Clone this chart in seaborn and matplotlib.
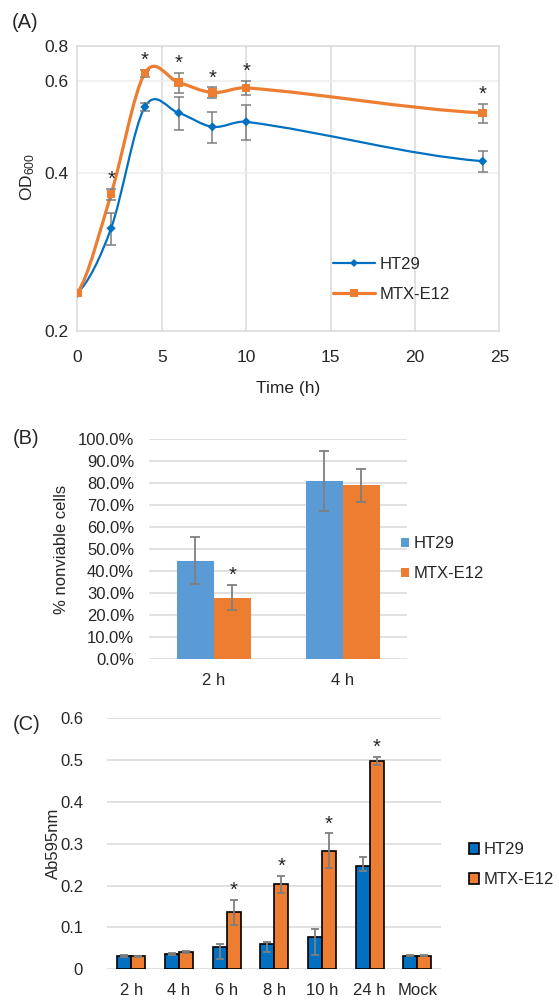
import numpy as np
import pandas as pd
import matplotlib
matplotlib.use("Agg")
import matplotlib.pyplot as plt
import seaborn as sns
from matplotlib.path import Path
from matplotlib.patches import PathPatch, Patch
from matplotlib.lines import Line2D
from matplotlib.ticker import NullLocator, NullFormatter, PercentFormatter

# ---------------- data ----------------
# (A) growth curve, OD600
time_h = [0, 2, 4, 6, 8, 10, 24]
od_ht29 = [0.236, 0.314, 0.536, 0.522, 0.491, 0.502, 0.422]
od_ht29_err = [0.0, 0.022, 0.009, 0.037, 0.033, 0.039, 0.019]
od_mtx = [0.236, 0.365, 0.622, 0.597, 0.571, 0.583, 0.522]
od_mtx_err = [0.0, 0.009, 0.010, 0.026, 0.013, 0.019, 0.022]
od_mtx_sig = [False, True, True, True, True, True, True]

# (B) % nonviable cells
b_times = ["2 h", "4 h"]
b_ht29 = [0.448, 0.809]
b_ht29_err = [0.107, 0.136]
b_mtx = [0.279, 0.789]
b_mtx_err = [0.057, 0.073]
b_mtx_sig = [True, False]

# (C) Ab595nm
c_times = ["2 h", "4 h", "6 h", "8 h", "10 h", "24 h", "Mock"]
c_ht29 = [0.032, 0.037, 0.054, 0.061, 0.077, 0.246, 0.032]
c_ht29_err_lo = [0.003, 0.003, 0.030, 0.020, 0.043, 0.011, 0.001]
c_ht29_err_hi = [0.003, 0.003, 0.006, 0.004, 0.019, 0.023, 0.001]
c_mtx = [0.031, 0.041, 0.136, 0.203, 0.283, 0.498, 0.032]
c_mtx_err = [0.001, 0.003, 0.030, 0.020, 0.042, 0.010, 0.001]
c_mtx_sig = [False, False, True, True, True, True, False]

lines = ["HT29", "MTX-E12"]

# ---------------- style ----------------
sns.set_style("white")
plt.rcParams["font.family"] = ["Liberation Sans", "DejaVu Sans"]
plt.rcParams["mathtext.fontset"] = "custom"
plt.rcParams["mathtext.rm"] = "Liberation Sans"
plt.rcParams["mathtext.it"] = "Liberation Sans:italic"
plt.rcParams["mathtext.bf"] = "Liberation Sans:bold"

BLUE_A = "#0070C0"
ORANGE = "#ED7D31"
BLUE_B = "#5B9BD5"
GRID = "#d9d9d9"
ERR = "#7f7f7f"
FS = 12
STAR_FS = 14.5

W, H = 559, 1000
fig = plt.figure(figsize=(W / 100, H / 100), dpi=100)


def ax_px(l, t, r, b):
    return fig.add_axes([l / W, 1 - b / H, (r - l) / W, (b - t) / H])


def smooth_path(x, y):
    x = np.asarray(x, float)
    ly = np.log(np.asarray(y, float))
    n = len(x)
    m = np.empty(n)
    for i in range(n):
        if i == 0:
            m[i] = 0.5 * (ly[1] - ly[0]) / (x[1] - x[0])
        elif i == n - 1:
            m[i] = 0.5 * (ly[-1] - ly[-2]) / (x[-1] - x[-2])
        else:
            m[i] = (ly[i + 1] - ly[i - 1]) / (x[i + 1] - x[i - 1])
    verts = [(x[0], np.exp(ly[0]))]
    codes = [Path.MOVETO]
    for i in range(n - 1):
        h = x[i + 1] - x[i]
        verts += [(x[i] + h / 3, np.exp(ly[i] + m[i] * h / 3)),
                  (x[i + 1] - h / 3, np.exp(ly[i + 1] - m[i + 1] * h / 3)),
                  (x[i + 1], np.exp(ly[i + 1]))]
        codes += [Path.CURVE4] * 3
    return Path(verts, codes)


# ================= Panel A =================
axA = ax_px(77.3, 45.7, 499.5, 330.7)
axA.set_yscale("log")
axA.set_xlim(0, 25)
axA.set_ylim(0.2, 0.702)
axA.set_xticks([0, 5, 10, 15, 20, 25])
axA.set_yticks([0.2, 0.4, 0.6, 0.702], labels=["0.2", "0.4", "0.6", "0.8"])
axA.yaxis.set_minor_locator(NullLocator())
axA.yaxis.set_minor_formatter(NullFormatter())
axA.grid(False)
for xv in [5, 10, 15, 20]:
    axA.axvline(xv, color=GRID, lw=1.1, zorder=0)
for yv in [0.4, 0.6]:
    axA.axhline(yv, color="#ededed", lw=1.1, zorder=0)
for s in axA.spines.values():
    s.set_color(GRID)
    s.set_linewidth(1.1)
axA.tick_params(axis="both", length=0, labelsize=12.5)
axA.tick_params(axis="y", pad=6)
axA.tick_params(axis="x", pad=14)

dfA = pd.DataFrame({
    "t": time_h * 2,
    "od": od_ht29 + od_mtx,
    "line": ["HT29"] * len(time_h) + ["MTX-E12"] * len(time_h),
})

for yv, col, lw in [(od_ht29, BLUE_A, 1.6), (od_mtx, ORANGE, 2.3)]:
    axA.add_patch(PathPatch(smooth_path(time_h, yv), facecolor="none",
                            edgecolor=col, lw=lw, zorder=2, capstyle="round"))

for yv, ev in [(od_ht29, od_ht29_err), (od_mtx, od_mtx_err)]:
    idx = [i for i, e in enumerate(ev) if e > 0]
    axA.errorbar([time_h[i] for i in idx], [yv[i] for i in idx],
                 yerr=[ev[i] for i in idx], fmt="none", ecolor=ERR,
                 elinewidth=1.1, capsize=3.3, capthick=1.1, zorder=3)

sns.scatterplot(data=dfA, x="t", y="od", hue="line", style="line",
                markers={"HT29": "D", "MTX-E12": "s"},
                palette={"HT29": BLUE_A, "MTX-E12": ORANGE},
                size="line", sizes={"HT29": 22, "MTX-E12": 38},
                linewidth=0, legend=False, ax=axA, zorder=4)

for t, v, e, sig in zip(time_h, od_mtx, od_mtx_err, od_mtx_sig):
    if sig:
        axA.annotate("*", xy=(t, v + e), xytext=(0, 0), textcoords="offset points",
                     ha="center", va="bottom", fontsize=STAR_FS)

axA.set_xlabel("Time (h)", fontsize=12.5, va="center")
axA.xaxis.set_label_coords(0.5, (330.7 - 388) / 285)
axA.set_ylabel("OD$_{600}$", fontsize=12.5, va="center")
axA.yaxis.set_label_coords((28 - 77.3) / 422.2, (330.7 - 177) / 285)

handlesA = [
    Line2D([], [], color=BLUE_A, lw=1.6, marker="D", markersize=4.2, markeredgewidth=0),
    Line2D([], [], color=ORANGE, lw=2.3, marker="s", markersize=6, markeredgewidth=0),
]
fig.legend(handles=handlesA, labels=lines, loc="center left",
           bbox_to_anchor=(333 / W, 1 - 279.5 / H), frameon=False, fontsize=FS,
           handlelength=2.5, handletextpad=0.3, labelspacing=0.9,
           borderpad=0, borderaxespad=0)

fig.text(25 / W, 1 - 22 / H, "(A)", fontsize=14.5, ha="center", va="center")

# ================= Panel B =================
axB = ax_px(149.3, 439, 407.3, 659.3)
dfB = pd.DataFrame({
    "time": b_times * 2,
    "value": b_ht29 + b_mtx,
    "line": ["HT29"] * len(b_times) + ["MTX-E12"] * len(b_times),
})
sns.barplot(data=dfB, x="time", y="value", hue="line",
            palette={"HT29": BLUE_B, "MTX-E12": ORANGE}, saturation=1,
            width=0.57, errorbar=None, legend=False, ax=axB, zorder=2,
            linewidth=0, edgecolor="none")
for cont, ev in zip(axB.containers, [b_ht29_err, b_mtx_err]):
    xs = [p.get_x() + p.get_width() / 2 for p in cont]
    hs = [p.get_height() for p in cont]
    axB.errorbar(xs, hs, yerr=ev, fmt="none", ecolor=ERR, elinewidth=1.3,
                 capsize=3.4, capthick=1.3, zorder=3)
for p, e, sig in zip(axB.containers[1], b_mtx_err, b_mtx_sig):
    if sig:
        axB.annotate("*", xy=(p.get_x() + p.get_width() / 2, p.get_height() + e),
                     xytext=(0, 0), textcoords="offset points",
                     ha="center", va="bottom", fontsize=STAR_FS)
axB.set_xlim(-0.5, 1.5)
axB.set_ylim(0, 1.0)
axB.set_yticks(np.arange(0, 1.01, 0.1))
axB.yaxis.set_major_formatter(PercentFormatter(1.0, decimals=1))
axB.grid(axis="y", color=GRID, lw=1.1)
axB.set_axisbelow(True)
for s in axB.spines.values():
    s.set_visible(False)
axB.tick_params(axis="both", length=0, labelsize=FS)
axB.tick_params(axis="y", pad=11)
axB.tick_params(axis="x", pad=10)
axB.set_xlabel("")
axB.set_ylabel("% nonviable cells", fontsize=FS, va="center")
axB.yaxis.set_label_coords((61 - 149.3) / 258, 0.5)

handlesB = [Patch(facecolor=BLUE_B, edgecolor="none"),
            Patch(facecolor=ORANGE, edgecolor="none")]
fig.legend(handles=handlesB, labels=lines, loc="center left",
           bbox_to_anchor=(400.7 / W, 1 - 559 / H), frameon=False, fontsize=FS,
           handlelength=0.5, handleheight=0.5, handletextpad=0.25,
           labelspacing=0.9, borderpad=0, borderaxespad=0)
fig.text(26 / W, 1 - 438 / H, "(B)", fontsize=14.5, ha="center", va="center")

# ================= Panel C =================
axC = ax_px(107.4, 718.3, 441, 969.3)
dfC = pd.DataFrame({
    "time": c_times * 2,
    "value": c_ht29 + c_mtx,
    "line": ["HT29"] * len(c_times) + ["MTX-E12"] * len(c_times),
})
sns.barplot(data=dfC, x="time", y="value", hue="line",
            palette={"HT29": BLUE_A, "MTX-E12": ORANGE}, saturation=1,
            width=0.587, errorbar=None, legend=False, ax=axC, zorder=2,
            edgecolor="black", linewidth=1.2)
errsC = [[c_ht29_err_lo, c_ht29_err_hi], [c_mtx_err, c_mtx_err]]
for cont, ev in zip(axC.containers, errsC):
    xs = [p.get_x() + p.get_width() / 2 for p in cont]
    hs = [p.get_height() for p in cont]
    axC.errorbar(xs, hs, yerr=ev, fmt="none", ecolor=ERR, elinewidth=1.3,
                 capsize=3.2, capthick=1.3, zorder=3)
for p, e, sig in zip(axC.containers[1], c_mtx_err, c_mtx_sig):
    if sig:
        axC.annotate("*", xy=(p.get_x() + p.get_width() / 2, p.get_height() + e),
                     xytext=(0, 0), textcoords="offset points",
                     ha="center", va="bottom", fontsize=STAR_FS)
axC.set_xlim(-0.5, len(c_times) - 0.5)
axC.set_ylim(0, 0.6)
axC.set_yticks([0, 0.1, 0.2, 0.3, 0.4, 0.5, 0.6],
               labels=["0", "0.1", "0.2", "0.3", "0.4", "0.5", "0.6"])
axC.grid(axis="y", color=GRID, lw=1.1)
axC.set_axisbelow(True)
for s in axC.spines.values():
    s.set_visible(False)
axC.tick_params(axis="both", length=0, labelsize=FS)
axC.tick_params(axis="y", pad=17.5)
axC.tick_params(axis="x", pad=10)
axC.set_xlabel("")
axC.set_ylabel("Ab595nm", fontsize=FS, va="center")
axC.yaxis.set_label_coords((53 - 107.4) / 333.6, 0.5)

handlesC = [Patch(facecolor=BLUE_A, edgecolor="black", lw=1.2),
            Patch(facecolor=ORANGE, edgecolor="black", lw=1.2)]
fig.legend(handles=handlesC, labels=lines, loc="center left",
           bbox_to_anchor=(469 / W, 1 - 865 / H), frameon=False, fontsize=FS,
           handlelength=0.6, handleheight=0.6, handletextpad=0.3,
           labelspacing=0.9, borderpad=0, borderaxespad=0)
fig.text(27 / W, 1 - 725 / H, "(C)", fontsize=14.5, ha="center", va="center")

fig.savefig("out.png", dpi=100)
